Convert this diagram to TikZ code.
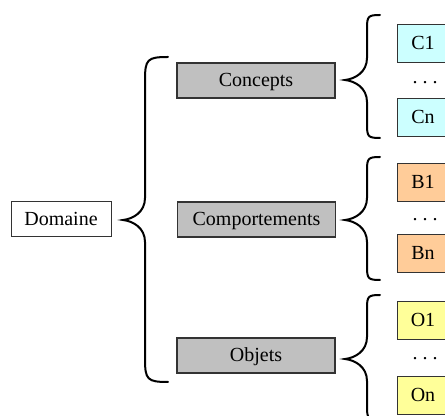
\documentclass[tikz,border=0pt]{standalone}
\usepackage{fontspec}
\setmainfont{Liberation Serif}
\definecolor{boxgray}{HTML}{C0C0C0}
\definecolor{edgegray}{HTML}{333333}
\definecolor{conceptfill}{HTML}{CCFFFF}
\definecolor{behavefill}{HTML}{FFCC99}
\definecolor{objectfill}{HTML}{FFFF99}
% curly brace: tip (#1,#2), stem at x=#3, arm ends at x=#4, from y=#5 to y=#6
\newcommand\curlybrace[6]{%
  \draw[brace line]
    (#4,#5) .. controls ({#3+0.1*(#4-#3)},#5) and (#3,{#5+0.1*(#4-#3)}) .. (#3,{#5+(#4-#3)})
    -- (#3,{#2-(#3-#1)})
    .. controls (#3,{#2-0.35*(#3-#1)}) and ({#1+0.45*(#3-#1)},{#2-0.05*(#3-#1)}) .. (#1,#2)
    .. controls ({#1+0.45*(#3-#1)},{#2+0.05*(#3-#1)}) and (#3,{#2+0.35*(#3-#1)}) .. (#3,{#2+(#3-#1)})
    -- (#3,{#6-(#4-#3)})
    .. controls (#3,{#6-0.1*(#4-#3)}) and ({#3+0.1*(#4-#3)},#6) .. (#4,#6);}
\tikzset{
  brace line/.style={line width=1pt, line cap=round, black},
  labeltext/.style={font=\fontsize{10}{12}\selectfont, text height=7pt, text depth=1.2pt},
  rootbox/.style={labeltext, draw=edgegray, line width=0.5pt, fill=white, minimum width=50pt,
    minimum height=17.5pt, inner sep=0pt},
  groupbox/.style={labeltext, draw=edgegray, line width=0.6pt, fill=boxgray, minimum width=79pt,
    minimum height=17.5pt, inner sep=0pt},
  itembox/.style={labeltext, draw=edgegray, line width=0.5pt, minimum width=26pt,
    minimum height=19pt, inner sep=0pt},
  dotsnode/.style={inner sep=0pt, font=\fontsize{10}{12}\selectfont}
}
\begin{document}
\begin{tikzpicture}[x=0.5pt, y=-0.5pt]
  \useasboundingbox (0,0) rectangle (445,416);
  \clip (0,0) rectangle (445,416);
  \fill[white] (0,0) rectangle (445,416);

  % root and groups
  \node[rootbox] (dom) at (61,219.5) {Domaine};
  \node[groupbox] (conc) at (256,80.5) {Concepts};
  \node[groupbox] (comp) at (256.5,219.5) {Comportements};
  \node[groupbox] (obj) at (256,355.5) {Objets};

  % items
  \node[itembox, fill=conceptfill] (c1) at (423,44) {C1};
  \node[itembox, fill=conceptfill] (cn) at (423,117.5) {Cn};
  \node[dotsnode] (cdots) at (425,83) {.\ .\ .};
  \node[itembox, fill=behavefill] (b1) at (423,182.5) {B1};
  \node[itembox, fill=behavefill] (bn) at (423,254) {Bn};
  \node[dotsnode] (bdots) at (425,220) {.\ .\ .};
  \node[itembox, fill=objectfill] (o1) at (423,321) {O1};
  \node[itembox, fill=objectfill] (on) at (423,396) {On};
  \node[dotsnode] (odots) at (425,359) {.\ .\ .};

  % braces
  \curlybrace{123}{220}{145}{168}{57}{382}
  \curlybrace{345}{80}{367}{380}{15}{138}
  \curlybrace{345}{220}{367}{380}{157}{280}
  \curlybrace{345}{359}{367}{380}{295}{420}
\end{tikzpicture}
\end{document}
